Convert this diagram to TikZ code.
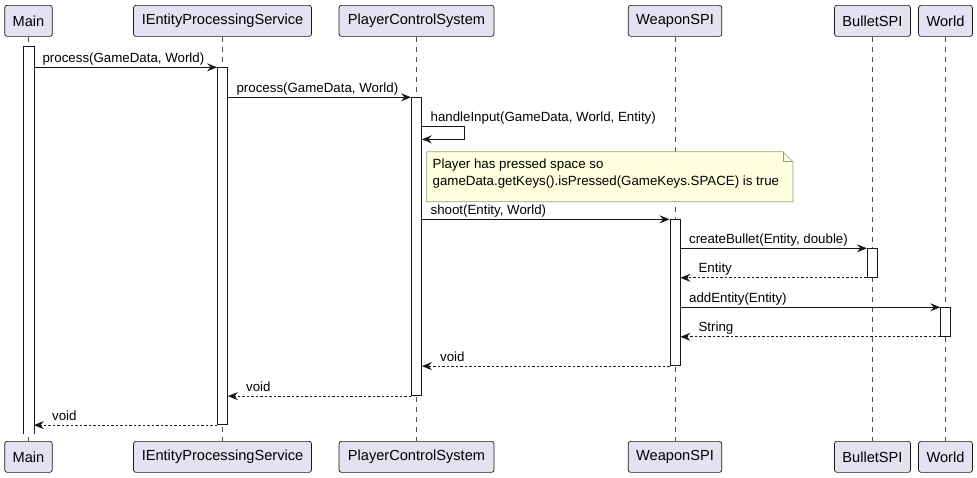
\documentclass[tikz,border=0pt]{standalone}
\usepackage{fontspec}
\setmainfont{Liberation Sans}
\usetikzlibrary{arrows.meta,calc}
\definecolor{partfill}{HTML}{E2E2F0}
\definecolor{lineclr}{HTML}{181818}
\definecolor{notefill}{HTML}{FEFFDD}
\definecolor{noteline}{HTML}{9A9A80}
\tikzset{
  part/.style={draw=lineclr, fill=partfill, rounded corners=2.5pt, line width=0.7pt,
    minimum height=31pt, inner xsep=8pt, font=\fontsize{14.6}{16}\selectfont, anchor=north},
  life/.style={draw=lineclr!75, line width=0.6pt, dash pattern=on 5pt off 5pt},
  actbar/.style={draw=lineclr, fill=white, line width=0.8pt, minimum width=10pt, inner sep=0pt, anchor=north},
  msg/.style={draw=lineclr, line width=0.8pt, -{Stealth[length=10pt,width=8pt,inset=3.5pt]}},
  ret/.style={msg, dash pattern=on 2.5pt off 2pt},
  lbl/.style={font=\fontsize{13.3}{15}\selectfont, inner sep=0pt, anchor=base west},
}
\begin{document}
\begin{tikzpicture}[x=1pt,y=-1pt]
\useasboundingbox (0,0) rectangle (977,477);
% participants
\node[part, minimum width=47pt] (pMain) at (28.5,5) {Main};
\node[part, minimum width=178pt] (pIEPS) at (222.5,5) {IEntityProcessingService};
\node[part, minimum width=155pt] (pPCS) at (416.5,5) {PlayerControlSystem};
\node[part, minimum width=87pt] (pW) at (675,5) {WeaponSPI};
\node[part, minimum width=72pt] (pB) at (872.5,5) {BulletSPI};
\node[part, minimum width=53pt] (pWo) at (945.5,5) {World};
\node[part, minimum width=47pt] (bMain) at (28.5,441) {Main};
\node[part, minimum width=178pt] (bIEPS) at (222.5,441) {IEntityProcessingService};
\node[part, minimum width=155pt] (bPCS) at (416.5,441) {PlayerControlSystem};
\node[part, minimum width=87pt] (bW) at (675,441) {WeaponSPI};
\node[part, minimum width=72pt] (bB) at (872.5,441) {BulletSPI};
\node[part, minimum width=53pt] (bWo) at (945.5,441) {World};
% lifelines
\draw[life] (pMain.south) -- (bMain.north);
\draw[life] (pIEPS.south) -- (bIEPS.north);
\draw[life] (pPCS.south) -- (bPCS.north);
\draw[life] (pW.south) -- (bW.north);
\draw[life] (pB.south) -- (bB.north);
\draw[life] (pWo.south) -- (bWo.north);
% activations
\node[actbar, minimum height=386pt, draw=none] (aMain) at (28.5,46.7) {};
\draw[lineclr, line width=0.8pt] (aMain.south west) -- (aMain.north west) -- (aMain.north east) -- (aMain.south east);
\node[actbar, minimum height=357pt] (aIEPS) at (222.5,67.3) {};
\node[actbar, minimum height=298pt] (aPCS) at (416.5,97.3) {};
\node[actbar, minimum height=146pt] (aW) at (675,219.3) {};
\node[actbar, minimum height=28.7pt] (aB) at (872.3,248.3) {};
\node[actbar, minimum height=28.7pt] (aWo) at (945.7,307.3) {};
% messages
\draw[msg] (aMain.east |- aIEPS.north) -- (aIEPS.north west);
\node[lbl] (l1) at ($(aMain.east |- aIEPS.north)+(8.5,-5)$) {process(GameData, World)};
\draw[msg] (aIEPS.east |- aPCS.north) -- (aPCS.north west);
\node[lbl] (l2) at ($(aIEPS.east |- aPCS.north)+(8.5,-5)$) {process(GameData, World)};
% self message
\coordinate (s1) at ($(aPCS.north east)+(0,29.3)$);
\coordinate (s2) at ($(aPCS.north east)+(42,29.3)$);
\coordinate (s3) at ($(aPCS.north east)+(42,42)$);
\coordinate (s4) at ($(aPCS.north east)+(0,42)$);
\draw[msg] (s1) -- (s2) -- (s3) -- (s4);
\node[lbl] (l3) at ($(s1)+(8.5,-5)$) {handleInput(GameData, World, Entity)};
% note
\draw[noteline, fill=notefill, line width=0.6pt]
  (426.7,151.7) -- (783,151.7) -- (793,161.7) -- (793,201.7) -- (426.7,201.7) -- cycle;
\draw[noteline, line width=0.6pt] (783,151.7) -- (783,161.7) -- (793,161.7);
\node[lbl, anchor=north west, align=left, font=\fontsize{13.3}{16.5}\selectfont] (note) at (432.5,159) {Player has pressed space so\\gameData.getKeys().isPressed(GameKeys.SPACE) is true};
\draw[msg] (aPCS.east |- aW.north) -- (aW.north west);
\node[lbl] (l4) at ($(aPCS.east |- aW.north)+(8.5,-5)$) {shoot(Entity, World)};
\draw[msg] (aW.east |- aB.north) -- (aB.north west);
\node[lbl] (l5) at ($(aW.east |- aB.north)+(8.5,-5)$) {createBullet(Entity, double)};
\draw[ret] (aB.south west) -- (aW.east |- aB.south);
\node[lbl] (l6) at ($(aW.east |- aB.south)+(18,-5)$) {Entity};
\draw[msg] (aW.east |- aWo.north) -- (aWo.north west);
\node[lbl] (l7) at ($(aW.east |- aWo.north)+(8.5,-5)$) {addEntity(Entity)};
\draw[ret] (aWo.south west) -- (aW.east |- aWo.south);
\node[lbl] (l8) at ($(aW.east |- aWo.south)+(18,-5)$) {String};
\draw[ret] (aW.south west) -- (aPCS.east |- aW.south);
\node[lbl] (l9) at ($(aPCS.east |- aW.south)+(18,-5)$) {void};
\draw[ret] (aPCS.south west) -- (aIEPS.east |- aPCS.south);
\node[lbl] (l10) at ($(aIEPS.east |- aPCS.south)+(18,-5)$) {void};
\draw[ret] (aIEPS.south west) -- (aMain.east |- aIEPS.south);
\node[lbl] (l11) at ($(aMain.east |- aIEPS.south)+(18,-5)$) {void};
\end{tikzpicture}
\end{document}
